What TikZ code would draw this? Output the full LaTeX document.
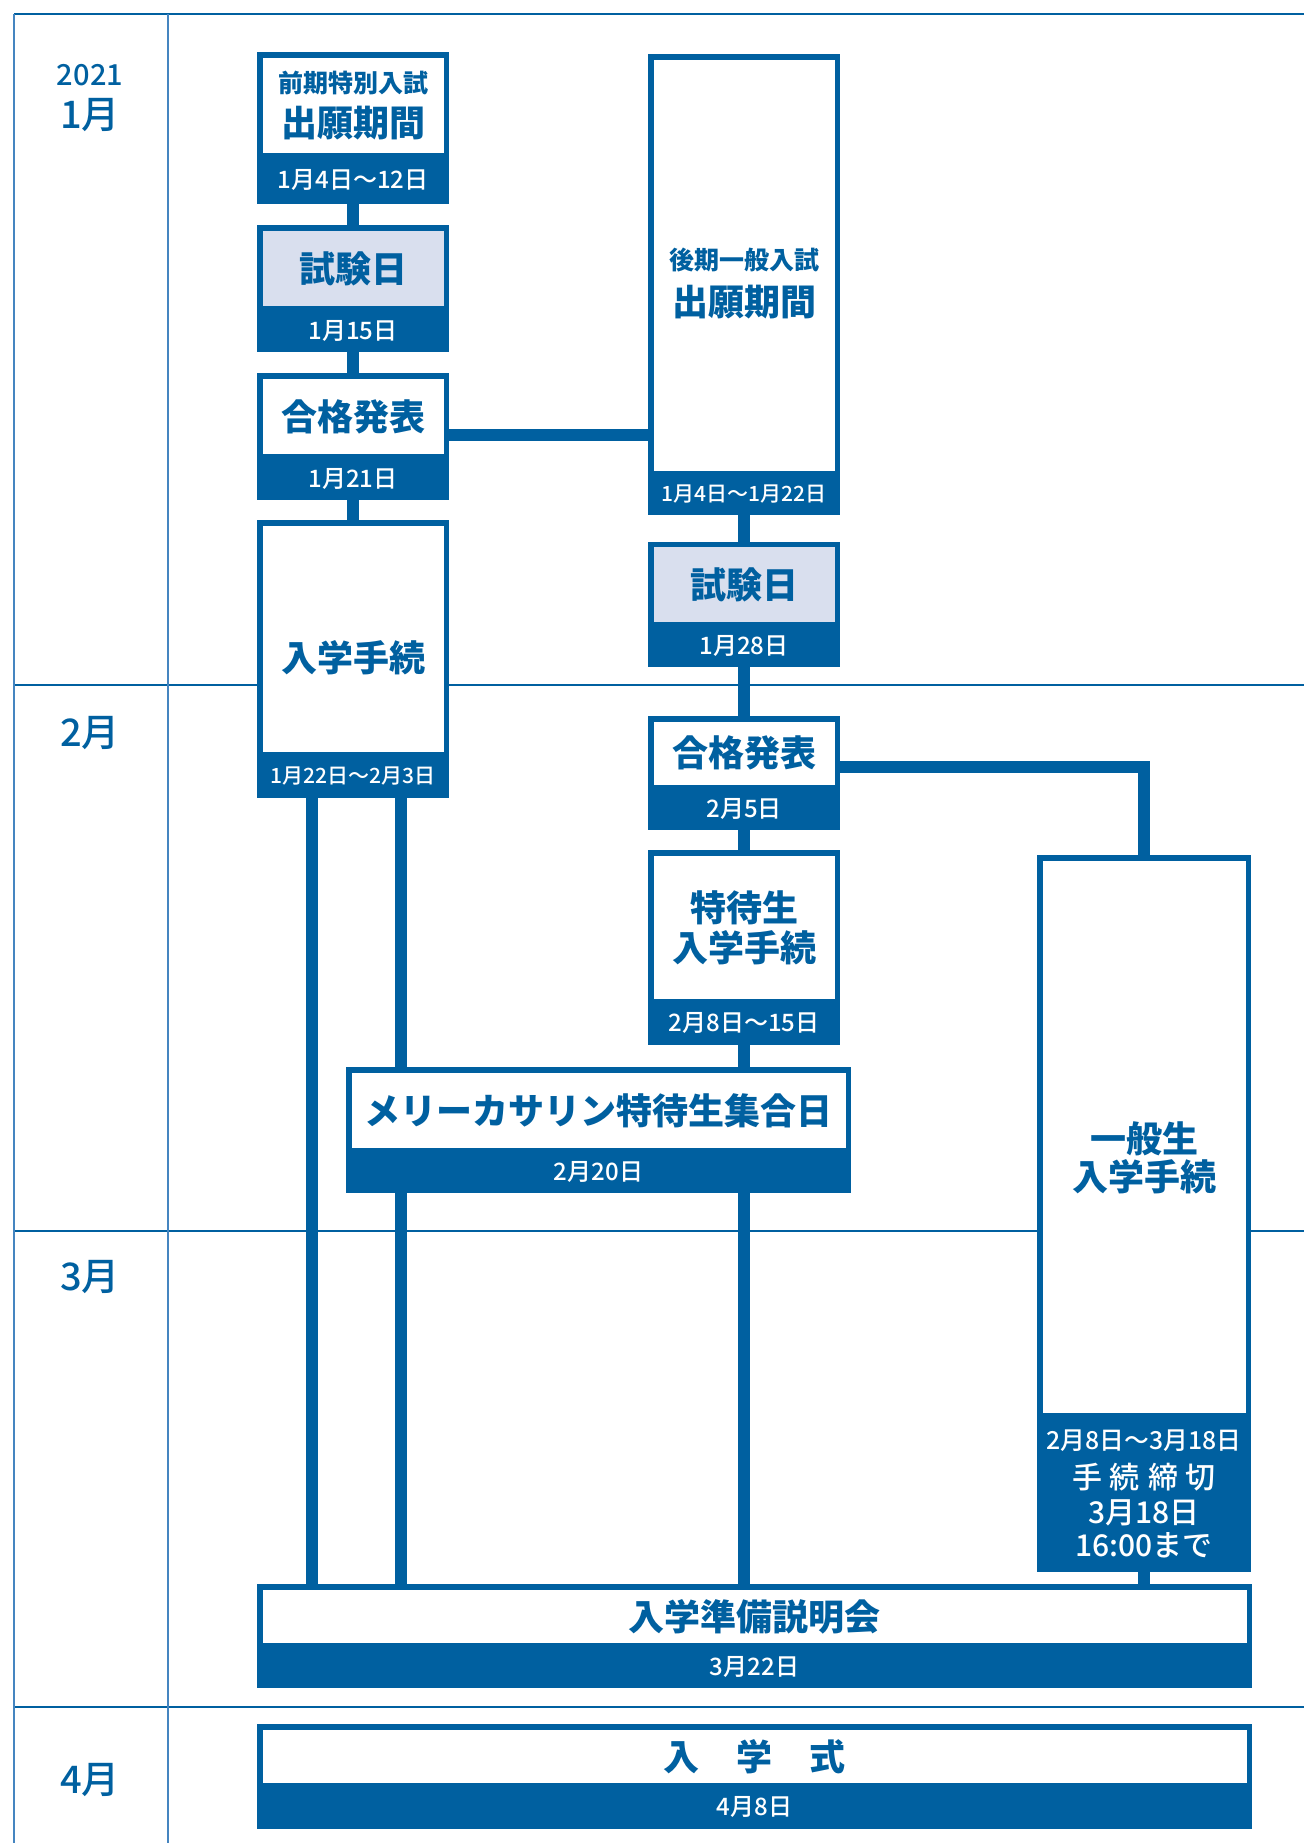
\documentclass[tikz,border=0pt]{standalone}
\usepackage{fontspec}
\setmainfont{Noto Sans CJK JP}
\newfontfamily\medfont{Noto Sans CJK JP Medium}
\usetikzlibrary{positioning}
\definecolor{kdark}{HTML}{0060A0}
\definecolor{klight}{HTML}{D9DFEE}
\definecolor{kgrid}{HTML}{4585C0}
\tikzstyle{frame} = [rectangle, anchor=north, draw=kdark, line width=2.75pt, fill=white, inner sep=0pt, outer sep=0pt, text=kdark, align=center, font=\fontsize{18pt}{20pt}\selectfont\bfseries]
\tikzstyle{exam} = [frame, fill=klight]
\tikzstyle{title} = [inner sep=0pt, text=kdark, align=center, font=\fontsize{18pt}{20pt}\selectfont\bfseries]
\tikzstyle{band} = [rectangle, fill=kdark, text=white, inner sep=0pt, outer sep=0pt, align=center, font=\fontsize{12pt}{14pt}\selectfont\medfont]
\tikzstyle{month} = [inner sep=0pt, text=kdark, font=\fontsize{19pt}{21pt}\selectfont\medfont]
\tikzstyle{link} = [draw=kdark, line width=6pt]
\tikzstyle{rule} = [draw=kdark, line width=1pt]
\tikzstyle{vrule} = [draw=kgrid, line width=0.75pt]

\begin{document}
\begin{tikzpicture}[x=0.5pt, y=-0.5pt]
        \useasboundingbox (0,0) rectangle (1304,1843);

        % Grade dos meses
        \draw [rule] (14,14) -- (1304,14);
        \draw [rule] (14,685) -- (1304,685);
        \draw [rule] (14,1231) -- (1304,1231);
        \draw [rule] (14,1707) -- (1304,1707);
        \draw [vrule] (14,14) -- (14,1843);
        \draw [vrule] (168,14) -- (168,1843);

        \node (year) [month, font=\fontsize{14.5pt}{16pt}\selectfont\medfont] at (90,75) {2021};
        \node (jan) [month] at (90,115) {1月};
        \node (feb) [month] at (90,733) {2月};
        \node (mar) [month] at (90,1277) {3月};
        \node (apr) [month] at (90,1780) {4月};

        % Blocos do lado esquerdo (前期)
        \node (A) [frame, minimum width=93.25pt, minimum height=50.63pt] at (353,54.75) {{\fontsize{12.5pt}{14pt}\selectfont 前期特別入試}\\[2pt]出願期間};
        \node (Aband) [band, below=0pt of A, minimum width=96pt, minimum height=24pt] {1月4日〜12日};
        \node (B) [exam, minimum width=93.25pt, minimum height=40.63pt] at (353,227.75) {試験日};
        \node (Bband) [band, below=0pt of B, minimum width=96pt, minimum height=21.5pt] {1月15日};
        \node (C) [frame, minimum width=93.25pt, minimum height=40.63pt] at (353,375.75) {合格発表};
        \node (Cband) [band, below=0pt of C, minimum width=96pt, minimum height=21.5pt] {1月21日};
        \node (D) [frame, minimum width=93.25pt, minimum height=116.13pt] at (353,522.75) {};
        \node (Dtitle) [title] at (353,658) {入学手続};
        \node (Dband) [band, below=0pt of D, minimum width=96pt, minimum height=21.5pt, font=\fontsize{10.5pt}{12pt}\selectfont\medfont] {1月22日〜2月3日};

        % Blocos do meio (後期)
        \node (E) [frame, minimum width=93.25pt, minimum height=208.63pt] at (744,56.75) {};
        \node (Etitle) [title] at (744,283) {{\fontsize{12.5pt}{14pt}\selectfont 後期一般入試}\\[3pt]出願期間};
        \node (Eband) [band, below=0pt of E, minimum width=96pt, minimum height=20.5pt, font=\fontsize{10.5pt}{12pt}\selectfont\medfont] {1月4日〜1月22日};
        \node (F) [exam, minimum width=93.25pt, minimum height=40.4pt] at (744,544.25) {試験日};
        \node (Fband) [band, below=0pt of F, minimum width=96pt, minimum height=21pt] {1月28日};
        \node (G) [frame, minimum width=93.25pt, minimum height=34.6pt] at (744,718.75) {合格発表};
        \node (Gband) [band, below=0pt of G, minimum width=96pt, minimum height=21pt] {2月5日};
        \node (H) [frame, minimum width=93.25pt, minimum height=74.6pt] at (744,852.75) {特待生\\入学手続};
        \node (Hband) [band, below=0pt of H, minimum width=96pt, minimum height=21.5pt] {2月8日〜15日};
        \node (I) [frame, minimum width=249.75pt, minimum height=40.6pt] at (598.5,1069.75) {メリーカサリン特待生集合日};
        \node (Iband) [band, below=0pt of I, minimum width=252.5pt, minimum height=21pt] {2月20日};

        % Bloco da direita (一般生)
        \node (J) [frame, minimum width=104.25pt, minimum height=279.1pt] at (1144,857.75) {};
        \node (Jtitle) [title] at (1144,1158) {一般生\\[-1pt]入学手続};
        \node (Jband) [band, below=0pt of J, minimum width=107pt, minimum height=78pt, font=\fontsize{15pt}{16.5pt}\selectfont\medfont] {{\fontsize{12.4pt}{14pt}\selectfont 2月8日〜3月18日}\\[3pt]手\hspace{4pt}続\hspace{4pt}締\hspace{4pt}切\\[1pt]3月18日\\16:00まで};

        % Blocos de baixo
        \node (K) [frame, minimum width=494.75pt, minimum height=29.6pt] at (754.5,1586.75) {入学準備説明会};
        \node (Kband) [band, below=0pt of K, minimum width=497.5pt, minimum height=21pt] {3月22日};
        \node (L) [frame, minimum width=494.75pt, minimum height=29.6pt] at (754.5,1726.75) {入\hspace{18.5pt}学\hspace{18.5pt}式};
        \node (Lband) [band, below=0pt of L, minimum width=497.5pt, minimum height=21.5pt] {4月8日};

        % Conexões entre os blocos
        \draw [link] (Aband) -- (B);
        \draw [link] (Bband) -- (C);
        \draw [link] (Cband) -- (D);
        \draw [link] ([xshift=-20.5pt]Dband.south) -- ([xshift=-20.5pt]Dband.south |- K.north);
        \draw [link] ([xshift=24pt]Dband.south) -- ([xshift=24pt]Dband.south |- I.north);
        \draw [link] ([xshift=24pt]Dband.south |- Iband.south) -- ([xshift=24pt]Dband.south |- K.north);
        \draw [link] ([yshift=-9.3pt]C.east) -- ([yshift=-9.3pt]C.east -| E.west);
        \draw [link] (Eband) -- (F);
        \draw [link] (Fband) -- (G);
        \draw [link] (Gband) -- (H);
        \draw [link] (Hband) -- (Hband |- I.north);
        \draw [link] (Iband.south -| Hband.south) -- (K.north -| Hband.south);
        \draw [link] ([yshift=-6.8pt]G.east) -| (J.north);
        \draw [link] (Jband) -- (Jband |- K.north);

    \end{tikzpicture}
\end{document}
